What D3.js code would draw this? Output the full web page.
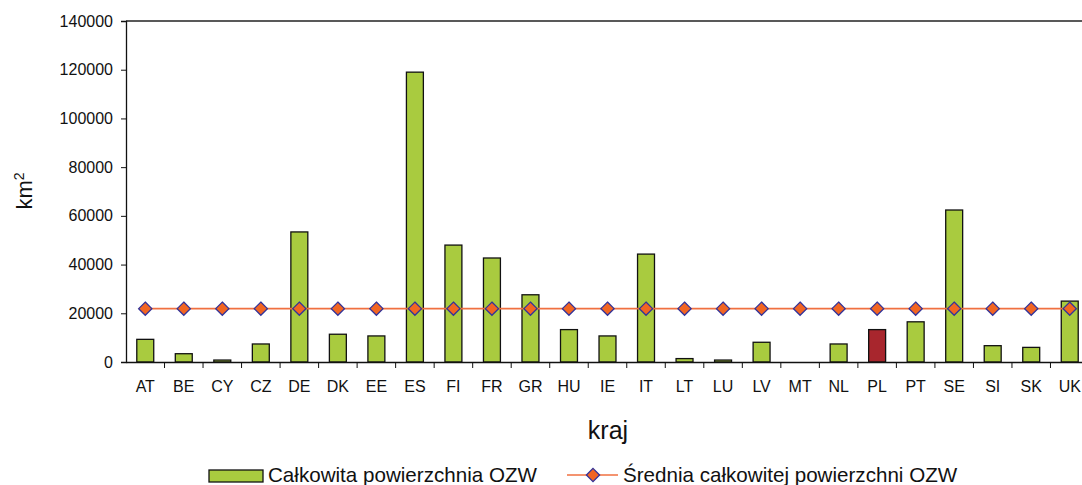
<!DOCTYPE html>
<html><head><meta charset="utf-8">
<script src="https://cdn.jsdelivr.net/npm/d3@7"></script>
<style>body{margin:0;background:#fff}svg{display:block}</style>
</head><body>
<svg id="c" width="1082" height="485"></svg>
<script>
const categories = ["AT","BE","CY","CZ","DE","DK","EE","ES","FI","FR","GR","HU","IE","IT","LT","LU","LV","MT","NL","PL","PT","SE","SI","SK","UK"];
const totalArea = [9300,3400,800,7400,53400,11400,10700,119000,48000,42700,27600,13300,10700,44300,1400,800,8100,0,7400,13300,16500,62400,6700,6000,25000];
const meanArea = [21900,21900,21900,21900,21900,21900,21900,21900,21900,21900,21900,21900,21900,21900,21900,21900,21900,21900,21900,21900,21900,21900,21900,21900,21900];
const yTicks = [0,20000,40000,60000,80000,100000,120000,140000];
const highlight = "PL";
const seriesNames = ["Całkowita powierzchnia OZW","Średnia całkowitej powierzchni OZW"];

const svg = d3.select("#c");
const font = "Liberation Sans, Arial, sans-serif";
const L = 126, R = 1089, T = 21, B = 362;
const x = d3.scaleBand().domain(categories).range([L, R]).paddingInner(0.56).paddingOuter(0.28);
const xb = d3.scaleBand().domain(categories).range([L, R]);
const y = d3.scaleLinear().domain([0, 140000]).range([B, T]);

// top border
svg.append("line").attr("x1", L).attr("x2", 1082).attr("y1", T).attr("y2", T)
  .attr("stroke", "#222").attr("stroke-width", 1.5);

// bars
svg.append("g").selectAll("rect").data(categories).join("rect")
  .attr("x", d => x(d)).attr("width", x.bandwidth())
  .attr("y", (d, i) => y(totalArea[i])).attr("height", (d, i) => B - y(totalArea[i]))
  .attr("fill", d => d === highlight ? "#A8262D" : "#A9CB3F")
  .attr("stroke", "#111").attr("stroke-width", 1.3);

// y axis
const ya = svg.append("g").attr("transform", `translate(${L},0)`)
  .call(d3.axisLeft(y).tickValues(yTicks).tickSize(5).tickPadding(8).tickFormat(d3.format("d")));
ya.select(".domain").attr("stroke", "#111").attr("stroke-width", 1.3);
ya.selectAll(".tick line").attr("stroke", "#111");
ya.selectAll("text").attr("font-family", font).attr("font-size", 16).attr("fill", "#111");

// x axis
const xa = svg.append("g").attr("transform", `translate(0,${B})`)
  .call(d3.axisBottom(xb).tickSize(0).tickPadding(19));
xa.select(".domain").attr("stroke", "#111").attr("stroke-width", 1.5);
xa.selectAll("text").attr("font-family", font).attr("font-size", 16).attr("fill", "#111");
svg.append("g").selectAll("line").data(categories.slice(1)).join("line")
  .attr("x1", d => xb(d)).attr("x2", d => xb(d)).attr("y1", B).attr("y2", B + 6)
  .attr("stroke", "#111");

// mean line
const cx = (d) => xb(d) + xb.bandwidth() / 2;
svg.append("path")
  .attr("d", d3.line().x((d, i) => cx(categories[i])).y(d => y(d))(meanArea))
  .attr("fill", "none").attr("stroke", "#F07040").attr("stroke-width", 1.6);
const dm = 6.6;
const diamond = `M0,${-dm}L${dm},0L0,${dm}L${-dm},0Z`;
svg.append("g").selectAll("path").data(meanArea).join("path")
  .attr("d", diamond)
  .attr("transform", (d, i) => `translate(${cx(categories[i])},${y(d)})`)
  .attr("fill", "#F26522").attr("stroke", "#333399").attr("stroke-width", 1.3);

// axis titles
svg.append("text").attr("transform", "translate(32,191) rotate(-90)")
  .attr("text-anchor", "middle").attr("font-family", font).attr("font-size", 22).attr("fill", "#111")
  .html('km<tspan baseline-shift="super" font-size="14">2</tspan>');
svg.append("text").attr("x", 608).attr("y", 439).attr("text-anchor", "middle")
  .attr("font-family", font).attr("font-size", 25).attr("fill", "#111").text("kraj");

// legend
const lg = svg.append("g");
lg.append("rect").attr("x", 209).attr("y", 470).attr("width", 54).attr("height", 12)
  .attr("fill", "#A9CB3F").attr("stroke", "#111").attr("stroke-width", 1.3);
lg.append("text").attr("x", 268).attr("y", 482).attr("font-family", font).attr("font-size", 20.6)
  .attr("fill", "#111").text(seriesNames[0]);
lg.append("line").attr("x1", 567).attr("x2", 618).attr("y1", 475).attr("y2", 475)
  .attr("stroke", "#F07040").attr("stroke-width", 1.6);
lg.append("path").attr("d", diamond).attr("transform", "translate(593,475)")
  .attr("fill", "#F26522").attr("stroke", "#333399").attr("stroke-width", 1.3);
lg.append("text").attr("x", 623).attr("y", 482).attr("font-family", font).attr("font-size", 20.6)
  .attr("fill", "#111").text(seriesNames[1]);
</script>
</body></html>
